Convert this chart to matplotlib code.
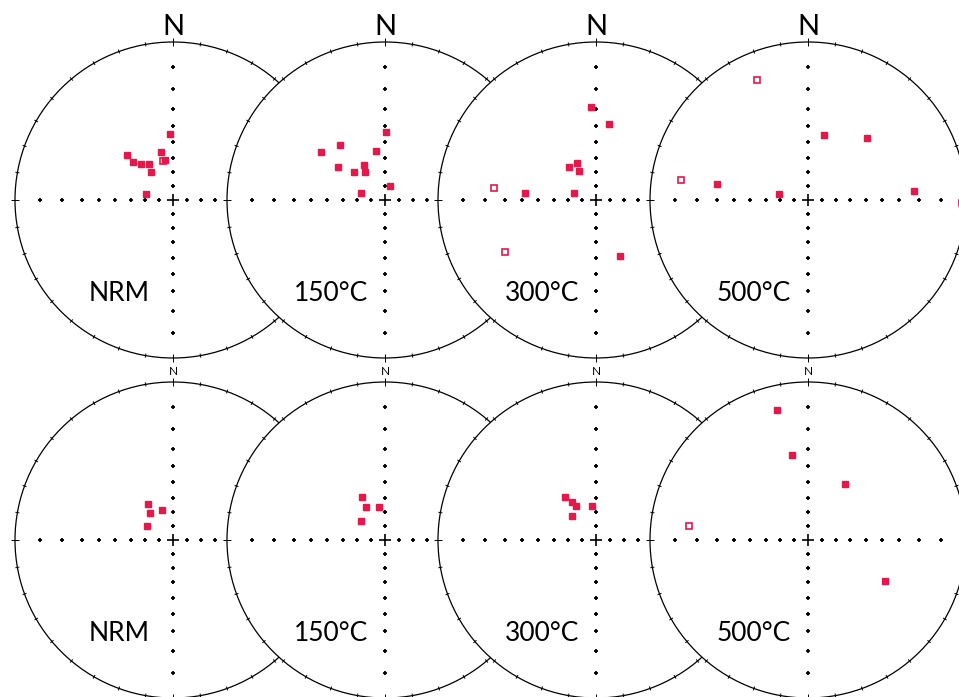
import numpy as np
import matplotlib
matplotlib.use('Agg')
import matplotlib.pyplot as plt
from matplotlib.patches import Circle
from matplotlib.collections import LineCollection

plt.rcParams['font.family'] = ['Lato', 'DejaVu Sans']

steps = ['NRM', '150°C', '300°C', '500°C']

# upper row, declination / inclination in degrees (negative inc = upper hemisphere, open symbol)
a_nrm_dec = [345.9, 357.6, 314.2, 313.5, 318.6, 326.9, 321.5, 346.0, 349.2, 281.9]
a_nrm_inc = [-61.7, 44.8, 45.5, 51.8, 55.9, 59.3, 64.5, 55.0, 60.9, 70.2]
a_150_dec = [0.6, 320.8, 307.3, 349.5, 304.9, 328.3, 312.3, 324.0, 20.5, 286.7]
a_150_inc = [43.6, 41.5, 36.3, 55.3, 50.1, 61.2, 60.0, 65.7, 79.0, 72.0]
a_300_dec = [357.1, 9.5, 321.4, 332.9, 329.4, 275.8, 289.1, 157.0, 276.8, 240.3]
a_300_inc = [28.9, 38.1, 59.7, 60.9, 66.1, 41.2, 73.5, 48.0, -24.1, -23.1]
a_500_dec = [336.9, 13.9, 43.4, 278.8, 280.2, 282.4, 85.3, 91.0]
a_500_inc = [-10.9, 44.3, 33.2, -11.7, 29.3, 68.9, 22.3, -1.5]

# lower row
b_nrm_dec = [325.4, 319.2, 339.7, 297.5]
b_nrm_inc = [58.8, 64.6, 67.3, 68.7]
b_150_dec = [331.4, 330.2, 349.1, 308.4]
b_150_inc = [55.8, 63.2, 66.2, 68.1]
b_300_dec = [323.7, 327.5, 329.0, 352.6, 314.2]
b_300_inc = [52.9, 57.9, 61.8, 65.5, 65.7]
b_500_dec = [346.4, 349.1, 33.6, 276.6, 118.1]
b_500_inc = [9.6, 32.6, 44.1, -15.8, 32.3]

rows = [
    [(a_nrm_dec, a_nrm_inc), (a_150_dec, a_150_inc), (a_300_dec, a_300_inc), (a_500_dec, a_500_inc)],
    [(b_nrm_dec, b_nrm_inc), (b_150_dec, b_150_inc), (b_300_dec, b_300_inc), (b_500_dec, b_500_inc)],
]

red = '#e5174b'
W, H = 959, 697
R = 158.0
pad = 1.25
x_centers = [173, 385, 596, 808]
y_centers = [H - 200, H - 540]
n_sizes = [21, 8.5]


def project(dec, inc):
    # stereographic (Wulff) projection
    dec = np.radians(np.asarray(dec, dtype=float))
    inc = np.asarray(inc, dtype=float)
    r = np.tan(np.radians(90 - np.abs(inc)) / 2)
    return r * np.sin(dec), r * np.cos(dec), inc >= 0


fig = plt.figure(figsize=(W / 100, H / 100), dpi=100)

for row, cy, nsize in zip(rows, y_centers, n_sizes):
    for (dec, inc), step, cx in zip(row, steps, x_centers):
        ax = fig.add_axes([(cx - pad * R) / W, (cy - pad * R) / H, 2 * pad * R / W, 2 * pad * R / H])
        ax.set_xlim(-pad, pad)
        ax.set_ylim(-pad, pad)
        ax.axis('off')

        ax.add_patch(Circle((0, 0), 1, facecolor='white', edgecolor='black', lw=0.9, zorder=0, clip_on=False))

        # ticks round the primitive
        segs = []
        for az in range(0, 360, 10):
            t = np.radians(az)
            d = 0.028 if az % 90 == 0 else 0.013
            segs.append([((1 - d) * np.sin(t), (1 - d) * np.cos(t)), ((1 + d) * np.sin(t), (1 + d) * np.cos(t))])
        ax.add_collection(LineCollection(segs, colors='black', lw=0.7, zorder=1))

        # crosses along the N-S and E-W axes, every 10 degrees
        rr = np.tan(np.radians(np.arange(10, 90, 10)) / 2)
        ax.plot(np.r_[rr, -rr], np.zeros(16), '+', color='black', ms=3.5, mew=1.3, zorder=1)
        ax.plot(np.zeros(16), np.r_[rr, -rr], '+', color='black', ms=3.5, mew=1.3, zorder=1)
        ax.plot(0, 0, '+', color='black', ms=9, mew=1.2, zorder=1)

        x, y, lower = project(dec, inc)
        ax.plot(x[~lower], y[~lower], 's', ms=5, mfc='white', mec=red, mew=1.2, ls='none', zorder=3, clip_on=False)
        ax.plot(x[lower], y[lower], 's', ms=5, color=red, ls='none', zorder=3, clip_on=False)

        ax.text(0, 1.045, 'N', fontsize=nsize, ha='center', va='baseline', zorder=4)
        ax.text(-54 / R, -101 / R, step, fontsize=19, ha='center', va='baseline', zorder=4)

fig.savefig('out.png', dpi=100, facecolor='white')
